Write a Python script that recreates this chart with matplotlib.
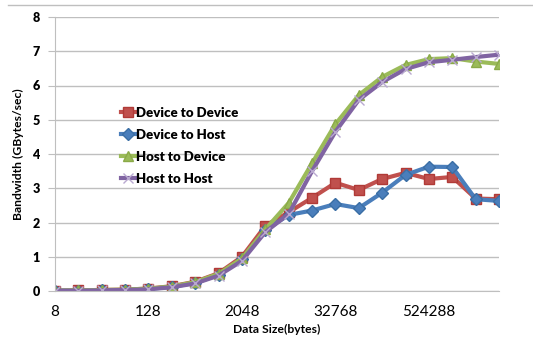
import matplotlib.pyplot as plt
import numpy as np
from matplotlib.lines import Line2D

sizes = [8, 16, 32, 64, 128, 256, 512, 1024, 2048, 4096, 8192, 16384, 32768,
         65536, 131072, 262144, 524288, 1048576, 2097152, 4194304]
dev_to_dev = [0.01, 0.02, 0.03, 0.04, 0.07, 0.14, 0.27, 0.52, 1.0, 1.9, 2.3, 2.72,
              3.16, 2.95, 3.27, 3.45, 3.27, 3.33, 2.7, 2.68]
dev_to_host = [0.01, 0.01, 0.02, 0.03, 0.06, 0.12, 0.24, 0.47, 0.93, 1.78, 2.22, 2.35,
               2.54, 2.42, 2.87, 3.39, 3.63, 3.62, 2.68, 2.63]
host_to_dev = [0.01, 0.02, 0.03, 0.04, 0.07, 0.13, 0.26, 0.5, 0.95, 1.8, 2.57, 3.73,
               4.87, 5.72, 6.25, 6.6, 6.77, 6.8, 6.7, 6.63]
host_to_host = [0.01, 0.01, 0.02, 0.03, 0.05, 0.11, 0.22, 0.45, 0.88, 1.72, 2.25, 3.5,
                4.65, 5.58, 6.1, 6.48, 6.68, 6.75, 6.83, 6.9]
labels = ["Device to Device", "Device to Host", "Host to Device", "Host to Host"]
tick_labels = ["8", "128", "2048", "32768", "524288"]

plt.rcParams['font.family'] = ['Lato', 'DejaVu Sans']

fig = plt.figure(figsize=(5.33, 3.45), dpi=100)
ax = fig.add_axes([55/533, 54/345, 444/533, 274/345])

x = np.arange(len(sizes))
ax.plot(x, dev_to_dev, "-s", color="#C0504D", lw=3, ms=7.5, mec="#B03A37", label=labels[0])
ax.plot(x, dev_to_host, "-D", color="#4A7EBB", lw=3, ms=6, mec="#3A6EA5", label=labels[1])
ax.plot(x, host_to_dev, "-^", color="#9BBB59", lw=3, ms=7.5, mec="#8AAA48", label=labels[2])
ax.plot(x, host_to_host, "-x", color="#8064A2", lw=3, ms=7, mec="#B9A9D0", mew=1, label=labels[3])

ax.set_xlim(0, len(sizes) - 1)
ax.set_ylim(0, 8)
ax.set_xticks(x[::4])
ax.set_xticklabels(tick_labels, fontsize=11)
ax.tick_params(axis="x", length=0, pad=10)
ax.set_xticks([8, 12, 16], minor=True)
ax.tick_params(axis="x", which="minor", length=4, color="#BFBFBF")
ax.set_yticks(range(0, 9))
ax.set_yticklabels([str(v) for v in range(0, 9)], fontsize=9, fontweight="heavy")
ax.tick_params(axis="y", length=5, color="#BFBFBF", pad=6)
ax.grid(axis="y", color="#BFBFBF", lw=1)
ax.set_axisbelow(True)
for s in ["top", "right"]:
    ax.spines[s].set_visible(False)
ax.spines["left"].set_color("#BFBFBF")
ax.spines["bottom"].set_color("#BFBFBF")

ax.set_xlabel("Data Size(bytes)", fontsize=8.7, fontweight="bold", labelpad=4)
ax.set_ylabel("Bandwidth (GBytes/sec)", fontsize=8.7, fontweight="bold", labelpad=6)

ax.legend(loc="upper left", bbox_to_anchor=(109/533, 1 - 95/345), bbox_transform=fig.transFigure,
          frameon=False, handlelength=1.15, handletextpad=0, labelspacing=0.75,
          prop={"weight": "heavy", "size": 9.5})

fig.add_artist(Line2D([8/533, 1], [1 - 5/345, 1 - 5/345], color="#BFBFBF", lw=1))

fig.savefig("out.png", dpi=100)
